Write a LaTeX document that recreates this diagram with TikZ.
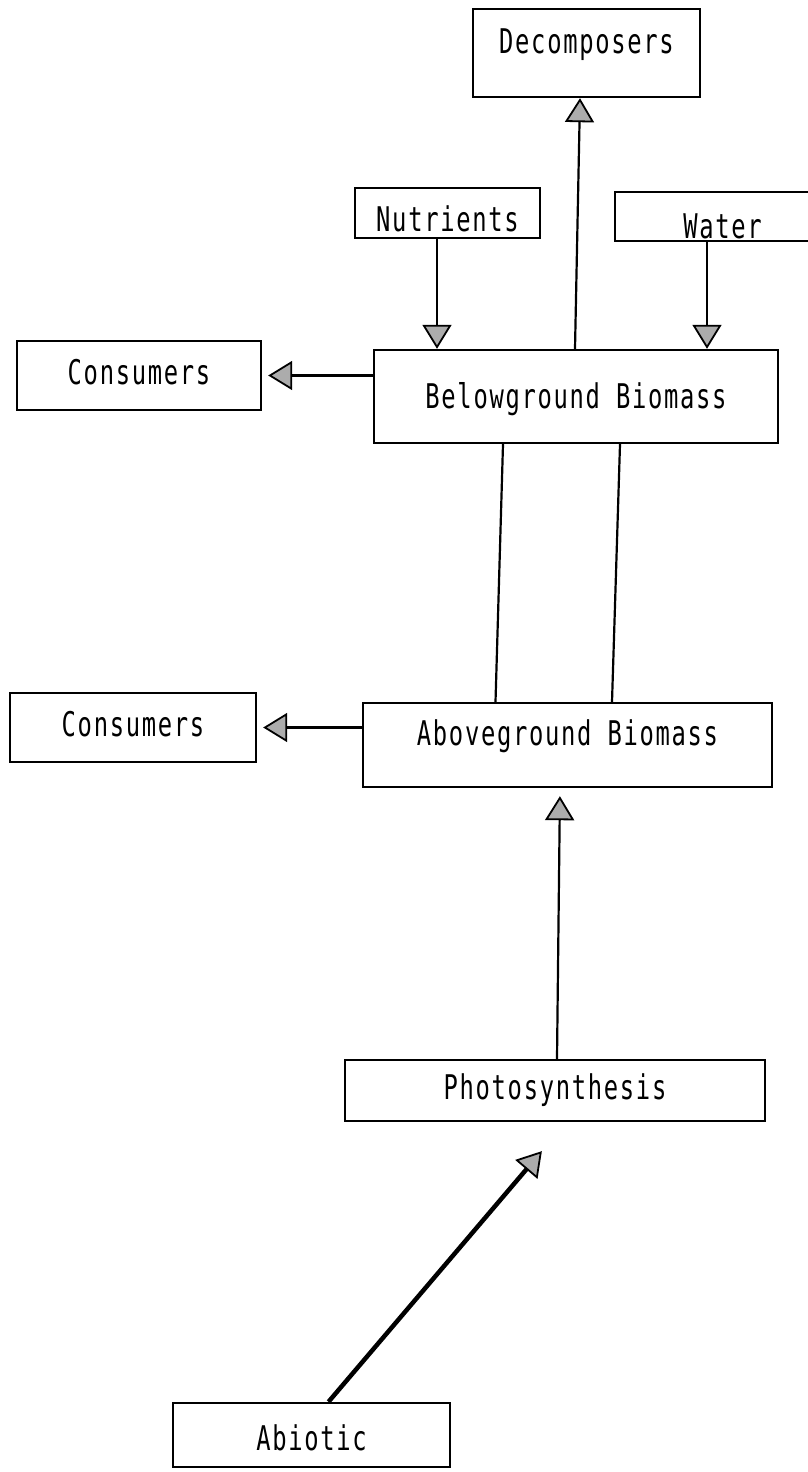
\documentclass[tikz,border=0pt]{standalone}
\usepackage{fontspec}
\newfontfamily\typew[FakeStretch=0.7,LetterSpace=5]{DejaVu Sans Mono}
\usetikzlibrary{arrows.meta}
\begin{document}
\begin{tikzpicture}[x=1pt,y=-1pt,
  box/.style={draw, line width=2.4pt, rectangle, inner sep=0pt,
    font=\typew\fontsize{34}{40}\selectfont, text height=25pt, text depth=7pt},
  flow/.style={line width=2.2pt,
    -{Triangle[length=24pt,width=29pt,line width=1.8pt,fill=gray!65]}},
  link/.style={line width=2.2pt}
]
\useasboundingbox (0,0) rectangle (808,1472);
\fill[white] (0,0) rectangle (808,1472);
\clip (0,0) rectangle (808,1472);

% boxes
\node[box, minimum width=227pt, minimum height=88pt, text depth=23pt] (dec) at (586.5,53) {Decomposers};
\node[box, minimum width=185pt, minimum height=50pt, text height=37pt, text depth=0pt] (nut) at (447.5,213) {Nutrients};
\node[box, minimum width=215pt, minimum height=49pt, text height=43pt, text depth=0pt] (wat) at (722.5,216.5) {Water};
\node[box, minimum width=244pt, minimum height=69pt] (c1) at (139,375.5) {Consumers};
\node[box, minimum width=404pt, minimum height=93pt, text height=30pt] (bel) at (576,396.5) {Belowground Biomass};
\node[box, minimum width=246pt, minimum height=69pt] (c2) at (133,727.5) {Consumers};
\node[box, minimum width=409pt, minimum height=84pt, text depth=24pt] (abv) at (567.5,745) {Aboveground Biomass};
\node[box, minimum width=420pt, minimum height=61pt] (pho) at (555,1090.5) {Photosynthesis};
\node[box, minimum width=277pt, minimum height=64pt, text height=31pt, text depth=0pt] (abi) at (311.5,1435) {Abiotic};

% flows
\draw[flow] ([xshift=-10.5pt]nut.south) -- ([xshift=-10.5pt]nut.south |- bel.north);
\draw[flow] ([xshift=-15.5pt]wat.south) -- ([xshift=-15.5pt]wat.south |- bel.north);
\draw[flow] ([xshift=-1pt]bel.north) -- ([xshift=-6.5pt]dec.south);
\draw[flow, shorten >=6pt] (c1.east -| bel.west) -- (c1.east);
\draw[flow, shorten >=6pt] (c2.east -| abv.west) -- (c2.east);
\draw[link] ([xshift=-73pt]bel.south) -- ([xshift=-72pt]abv.north);
\draw[link] ([xshift=44pt]bel.south) -- ([xshift=44.5pt]abv.north);
\draw[flow, shorten >=8pt] ([xshift=2pt]pho.north) -- ([xshift=-7.5pt]abv.south);
\draw[flow, line width=4.5pt, shorten >=38pt] ([xshift=17pt]abi.north) -- ([xshift=11.5pt]pho.south);
\end{tikzpicture}
\end{document}
